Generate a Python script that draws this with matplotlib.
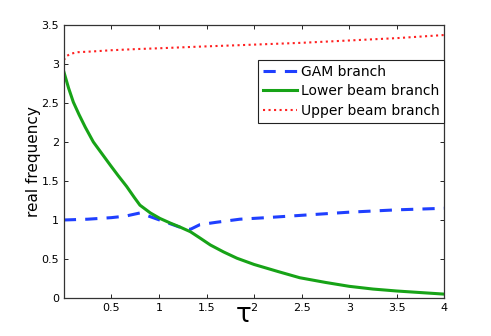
import matplotlib
matplotlib.use("Agg")
import matplotlib.pyplot as plt

# values
tau2_gam = [0.0, 0.25, 0.5, 0.65, 0.8, 0.96, 1.1, 1.26, 1.33, 1.43, 1.6, 1.85, 2.13, 2.5, 3.0, 3.5, 4.0]
gam = [1.0, 1.01, 1.03, 1.05, 1.09, 1.02, 0.96, 0.89, 0.88, 0.94, 0.97, 1.01, 1.03, 1.06, 1.10, 1.13, 1.15]

tau2_low = [0.0, 0.05, 0.10, 0.16, 0.225, 0.31, 0.40, 0.49, 0.57, 0.66, 0.74, 0.80, 0.91, 1.01, 1.12, 1.22, 1.33,
            1.43, 1.54, 1.68, 1.82, 2.0, 2.25, 2.48, 2.75, 3.0, 3.25, 3.5, 3.75, 4.0]
lower = [2.90, 2.69, 2.51, 2.35, 2.19, 2.00, 1.85, 1.70, 1.57, 1.43, 1.29, 1.19, 1.09, 1.02, 0.96, 0.91, 0.85,
         0.77, 0.68, 0.59, 0.51, 0.43, 0.34, 0.26, 0.20, 0.15, 0.115, 0.09, 0.07, 0.05]

tau2_up = [0.0, 0.03, 0.07, 0.15, 0.31, 0.5, 0.77, 1.0, 1.4, 1.85, 2.5, 3.0, 3.5, 4.0]
upper = [3.05, 3.10, 3.13, 3.15, 3.16, 3.175, 3.19, 3.20, 3.22, 3.24, 3.27, 3.30, 3.33, 3.37]

fig = plt.figure(figsize=(4.91, 3.36), dpi=100)
ax = fig.add_axes([0.13, 0.113, 0.775, 0.813])

ax.plot(tau2_gam, gam, '--', color='#1f3fff', lw=2.2, dashes=(4, 3), label='GAM branch')
ax.plot(tau2_low, lower, '-', color='#17a317', lw=2.2, label='Lower beam branch')
ax.plot(tau2_up, upper, ':', color='#ff2020', lw=1.5, label='Upper beam branch')

ax.set_xlim(0, 4)
ax.set_ylim(0, 3.5)
ax.set_xticks([0.5, 1, 1.5, 2, 2.5, 3, 3.5, 4])
ax.set_xticklabels(['0.5', '1', '1.5', '2', '2.5', '3', '3.5', '4'])
ax.set_yticks([0, 0.5, 1, 1.5, 2, 2.5, 3, 3.5])
ax.set_yticklabels(['0', '0.5', '1', '1.5', '2', '2.5', '3', '3.5'])
ax.tick_params(direction='in', top=True, right=True, labelsize=8, length=3, width=0.6)
for s in ax.spines.values():
    s.set_linewidth(0.9)
    s.set_color('#333333')

# x label tau; the "2" tick label right next to it reads as the square, as in the original
ax.text(1.975, -0.308, 'τ', fontsize=19, ha='right', va='baseline', family='DejaVu Sans',
        clip_on=False)
ax.set_ylabel('real frequency', fontsize=11, labelpad=0)

leg = ax.legend(loc='upper right', bbox_to_anchor=(1.0, 0.872), borderaxespad=0, fontsize=10,
                fancybox=False, framealpha=1, edgecolor='#222222',
                handlelength=2.4, handletextpad=0.3, borderpad=0.35, labelspacing=0.4)
leg.get_frame().set_linewidth(0.8)

fig.savefig('out.png', dpi=100)
